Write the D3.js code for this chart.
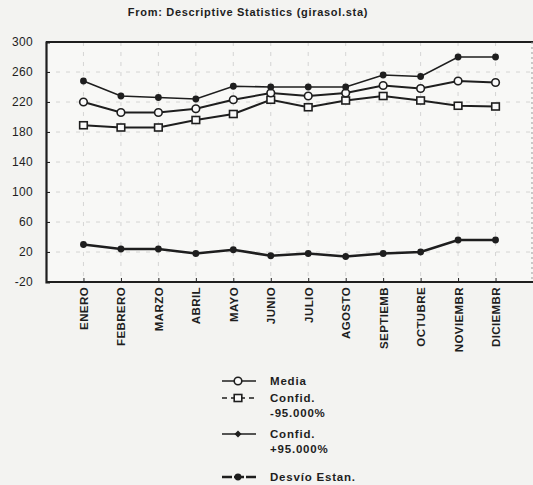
<!DOCTYPE html>
<html><head><meta charset="utf-8">
<script src="https://cdn.jsdelivr.net/npm/d3@7"></script>
<style>body{margin:0;background:#f3f3f1;}svg{display:block;font-family:Arial,"Liberation Sans",sans-serif;}</style>
</head><body>
<script>
const months = ["ENERO","FEBRERO","MARZO","ABRIL","MAYO","JUNIO","JULIO","AGOSTO","SEPTIEMB","OCTUBRE","NOVIEMBR","DICIEMBR"];
const media   = [220,206,206,211,223,232,228,232,242,238,248,246];
const confLo  = [189,186,186,196,204,223,213,222,228,222,215,214];
const confHi  = [248,228,226,224,241,240,240,240,256,254,280,280];
const desvio  = [30,24,24,18,23,15,18,14,18,20,36,36];
const yTicks  = [-20,20,60,100,140,180,220,260,300];
const title = "From: Descriptive Statistics (girasol.sta)";
const legendItems = [
  {lines:["Media"], key:"media"},
  {lines:["Confid.","-95.000%"], key:"lo"},
  {lines:["Confid.","+95.000%"], key:"hi"},
  {lines:["Desvío Estan."], key:"sd"}
];

const W=533,H=485;
const svg=d3.select("body").append("svg").attr("width",W).attr("height",H);
const L=46,R=533,T=42,B=282;
const x=d3.scalePoint().domain(months).range([L,R]).padding(1);
const y=d3.scaleLinear().domain([-20,300]).range([B,T]);
const ink="#1e1e1e";

svg.append("rect").attr("x",L).attr("y",T).attr("width",R-L).attr("height",B-T).attr("fill","#f8f8f6");

// grid
svg.append("g").selectAll("line").data(yTicks.slice(1,-1)).join("line")
  .attr("x1",L).attr("x2",R).attr("y1",d=>y(d)).attr("y2",d=>y(d))
  .attr("stroke","#cccccc").attr("stroke-width",0.8).attr("stroke-dasharray","4,6");
svg.append("g").selectAll("line").data(months).join("line")
  .attr("x1",d=>x(d)).attr("x2",d=>x(d)).attr("y1",T).attr("y2",B)
  .attr("stroke","#cccccc").attr("stroke-width",0.8).attr("stroke-dasharray","4,6");

// axes
const ya=svg.append("g").attr("transform",`translate(${L},0)`)
  .call(d3.axisLeft(y).tickValues(yTicks).tickFormat(d=>String(d)).tickSize(-4).tickPadding(13));
ya.select(".domain").attr("stroke",ink).attr("stroke-width",2.2);
ya.selectAll(".tick line").attr("stroke",ink);
ya.selectAll("text").attr("font-size",12).attr("letter-spacing",0.3).attr("fill",ink).style("font-family","Arial");

const xa=svg.append("g").attr("transform",`translate(0,${B})`)
  .call(d3.axisBottom(x).tickSize(-4).tickPadding(0));
xa.select(".domain").remove();
xa.selectAll(".tick line").attr("stroke",ink);
xa.selectAll("text").attr("font-size",11.5).attr("font-weight","bold").attr("fill",ink)
  .attr("letter-spacing",0.4)
  .style("font-family","Arial")
  .attr("text-anchor","end").attr("dy","0.35em")
  .attr("transform","translate(0,5) rotate(-90)").attr("x",0).attr("y",0);

svg.append("line").attr("x1",L).attr("x2",R).attr("y1",T).attr("y2",T).attr("stroke",ink).attr("stroke-width",2.2);
svg.append("line").attr("x1",L).attr("x2",R).attr("y1",B).attr("y2",B).attr("stroke",ink).attr("stroke-width",2.2);
svg.append("line").attr("x1",R-1).attr("x2",R-1).attr("y1",T).attr("y2",B).attr("stroke","#999").attr("stroke-dasharray","2,3");

// title
svg.append("text").attr("x",248).attr("y",16).attr("text-anchor","middle")
  .attr("font-size",11).attr("letter-spacing",0.7).attr("font-weight","bold").attr("fill",ink).text(title);

const line=d3.line().x((d,i)=>x(months[i])).y(d=>y(d));
const series=[
  {key:"lo",data:confLo,w:2,marker:"square"},
  {key:"media",data:media,w:2,marker:"circle"},
  {key:"hi",data:confHi,w:1.6,marker:"dot"},
  {key:"sd",data:desvio,w:2.6,marker:"dot"}
];
function drawMarker(g,cx,cy,type){
  if(type==="circle") g.append("circle").attr("cx",cx).attr("cy",cy).attr("r",3.8).attr("fill","#fafafa").attr("stroke",ink).attr("stroke-width",1.6);
  else if(type==="square") g.append("rect").attr("x",cx-3.8).attr("y",cy-3.5).attr("width",7.6).attr("height",7).attr("fill","#fafafa").attr("stroke",ink).attr("stroke-width",1.6);
  else g.append("circle").attr("cx",cx).attr("cy",cy).attr("r",3.4).attr("fill",ink);
}
series.forEach(s=>{
  svg.append("path").datum(s.data).attr("d",line).attr("fill","none").attr("stroke",ink).attr("stroke-width",s.w);
  const g=svg.append("g");
  s.data.forEach((v,i)=>drawMarker(g,x(months[i]),y(v),s.marker));
});

// legend
const legY=[381,398,434,477];
const lg=svg.append("g");
legendItems.forEach((it,i)=>{
  const s=series.find(d=>d.key===it.key);
  const yy=legY[i];
  const dash = it.key==="lo" ? "5,4" : (it.key==="sd" ? "10,2" : null);
  lg.append("line").attr("x1",222).attr("x2",256).attr("y1",yy).attr("y2",yy)
    .attr("stroke",ink).attr("stroke-width",it.key==="sd"?2.4:1.6).attr("stroke-dasharray",dash);
  if(it.key==="hi"){
    lg.append("path").attr("d",`M238,${yy-3.5}L241.5,${yy}L238,${yy+3.5}L234.5,${yy}Z`).attr("fill",ink);
  } else drawMarker(lg,238,yy,s.marker);
  it.lines.forEach((t,j)=>{
    lg.append("text").attr("x",270).attr("y",yy+j*15).attr("dy","0.35em")
      .attr("font-size",11.5).attr("letter-spacing",0.8).attr("font-weight","bold").attr("fill",ink).text(t);
  });
});
</script>
</body></html>
